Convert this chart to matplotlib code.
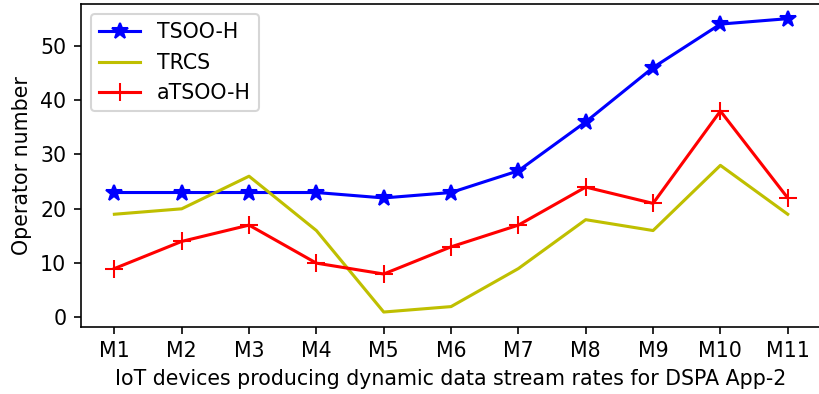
import matplotlib
matplotlib.use("Agg")
import matplotlib.pyplot as plt

categories = ["M1", "M2", "M3", "M4", "M5", "M6", "M7", "M8", "M9", "M10", "M11"]
tsoo_h = [23, 23, 23, 23, 22, 23, 27, 36, 46, 54, 55]
trcs = [19, 20, 26, 16, 1, 2, 9, 18, 16, 28, 19]
atsoo_h = [9, 14, 17, 10, 8, 13, 17, 24, 21, 38, 22]

DPI = 148
W, H = 819, 394
fig = plt.figure(figsize=(W / DPI, H / DPI), dpi=DPI)
# the axes box runs slightly past the right edge of the canvas
left, right, top, bottom = 80.7, 821.4, 4.0, 326.7
ax = fig.add_axes([left / W, (H - bottom) / H, (right - left) / W, (bottom - top) / H])

ax.plot(categories, tsoo_h, color="b", marker="*", markersize=8, label="TSOO-H")
ax.plot(categories, trcs, color="y", label="TRCS")
ax.plot(categories, atsoo_h, color="r", marker="+", markersize=9, label="aTSOO-H")

ax.set_xlabel("IoT devices producing dynamic data stream rates for DSPA App-2")
ax.set_ylabel("Operator number")
ax.legend(loc="upper left")

fig.savefig("out.png", dpi=DPI)
